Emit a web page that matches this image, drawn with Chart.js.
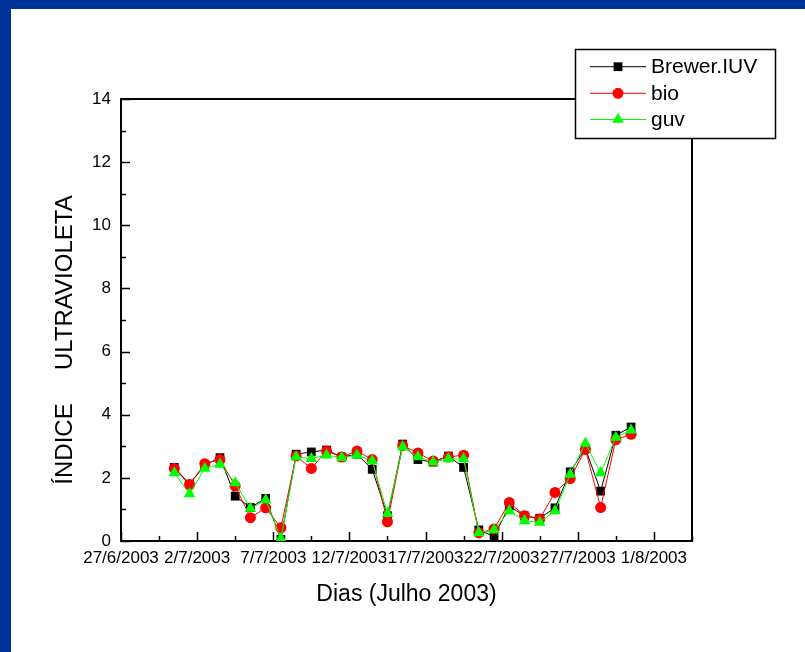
<!DOCTYPE html>
<html>
<head>
<meta charset="utf-8">
<script src="https://cdn.jsdelivr.net/npm/chart.js@4/dist/chart.umd.min.js"></script>
<style>
  html, body { margin: 0; padding: 0; background: #ffffff; }
  #frame { position: absolute; left: 0; top: 0; width: 805px; height: 652px; box-sizing: border-box;
           border-left: 11px solid #003399; border-top: 9px solid #003399; background: #ffffff; }
  #c { position: absolute; left: 0; top: 0; }
</style>
</head>
<body>
<div id="frame"></div>
<canvas id="c" width="805" height="652"></canvas>
<script>
// ---- data ----
const days = ['30/6','1/7','2/7','3/7','4/7','5/7','6/7','7/7','8/7','9/7','10/7','11/7','12/7','13/7','14/7','15/7',
              '16/7','17/7','18/7','19/7','20/7','21/7','22/7','23/7','24/7','25/7','26/7','27/7','28/7','29/7','30/7'];
const brewer = [2.33,1.80,2.40,2.64,1.42,1.06,1.35,0.05,2.75,2.82,2.88,2.66,2.75,2.27,0.80,3.07,
                2.58,2.50,2.69,2.33,0.35,0.14,1.11,0.79,0.72,1.05,2.19,2.93,1.58,3.35,3.61];
const bio    = [2.30,1.79,2.45,2.58,1.74,0.74,1.05,0.42,2.69,2.30,2.85,2.66,2.85,2.58,0.61,3.02,
                2.79,2.53,2.66,2.72,0.26,0.38,1.22,0.80,0.70,1.54,1.98,2.90,1.06,3.21,3.38];
const guv    = [2.16,1.49,2.30,2.43,1.84,1.03,1.30,0.08,2.66,2.61,2.72,2.64,2.72,2.54,0.87,2.98,
                2.66,2.50,2.60,2.60,0.26,0.35,0.95,0.64,0.59,0.95,2.11,3.09,2.16,3.28,3.51];
const xTickLabels = ['27/6/2003','2/7/2003','7/7/2003','12/7/2003','17/7/2003','22/7/2003','27/7/2003','1/8/2003'];
const seriesNames = ['Brewer.IUV','bio','guv'];

// days since 27/6/2003, measured at noon
const origin = new Date(2003, 5, 27);
function dayValue(s) {
  const [d, m] = s.split('/').map(Number);
  return (new Date(2003, m - 1, d) - origin) / 864e5 + 0.5;
}
function pts(vals) { return vals.map((v, i) => ({ x: dayValue(days[i]), y: v })); }

const FONT = '"Liberation Sans", Arial, Helvetica, sans-serif';

const frameTicks = {
  id: 'frameTicks',
  afterDraw(chart) {
    const { ctx, chartArea: a, scales } = chart;
    ctx.save();
    ctx.strokeStyle = '#000';
    ctx.lineWidth = 2;
    ctx.beginPath();
    ctx.moveTo(a.left, a.top); ctx.lineTo(a.right, a.top);
    ctx.moveTo(a.right, a.top); ctx.lineTo(a.right, a.bottom);
    ctx.stroke();
    ctx.lineWidth = 1.5;
    ctx.beginPath();
    for (let v = 0; v <= 14; v += 1) {
      const y = Math.round(scales.y.getPixelForValue(v)) + 0.5;
      const len = v % 2 === 0 ? 9 : 5;
      ctx.moveTo(a.left, y); ctx.lineTo(a.left + len, y);
    }
    for (let v = 0; v <= 37.5; v += 2.5) {
      const x = Math.round(scales.x.getPixelForValue(v)) + 0.5;
      const len = v % 5 === 0 ? 9 : 5;
      ctx.moveTo(x, a.bottom); ctx.lineTo(x, a.bottom - len);
    }
    ctx.stroke();
    ctx.restore();
  }
};

function drawMarker(ctx, style, x, y, r, color) {
  ctx.fillStyle = color;
  ctx.beginPath();
  if (style === 'rect') {
    const s = r * Math.SQRT1_2;
    ctx.rect(x - s, y - s, 2 * s, 2 * s);
  } else if (style === 'circle') {
    ctx.arc(x, y, r, 0, Math.PI * 2);
  } else {
    for (let k = 0; k < 3; k++) {
      const ang = k * 2 * Math.PI / 3;
      const px = x + Math.sin(ang) * r, py = y - Math.cos(ang) * r;
      if (k === 0) ctx.moveTo(px, py); else ctx.lineTo(px, py);
    }
    ctx.closePath();
  }
  ctx.fill();
}

const boxLegend = {
  id: 'boxLegend',
  afterDraw(chart) {
    const { ctx } = chart;
    const L = 575.5, T = 49.5, R = 775.5, B = 138.5;
    ctx.save();
    ctx.fillStyle = '#fff';
    ctx.fillRect(L, T, R - L, B - T);
    ctx.strokeStyle = '#000';
    ctx.lineWidth = 1.5;
    ctx.strokeRect(L, T, R - L, B - T);
    const rows = [66.7, 93.3, 119.5];
    chart.data.datasets.forEach((ds, i) => {
      const y = rows[i];
      ctx.strokeStyle = ds.borderColor;
      ctx.lineWidth = 1;
      ctx.beginPath();
      ctx.moveTo(590, y); ctx.lineTo(646, y);
      ctx.stroke();
      drawMarker(ctx, ds.pointStyle, 618, y, ds.pointRadius, ds.pointBackgroundColor);
      ctx.fillStyle = '#000';
      ctx.font = '21px ' + FONT;
      ctx.textBaseline = 'middle';
      ctx.textAlign = 'left';
      ctx.fillText(ds.label, 651, y + 1);
    });
    ctx.restore();
  }
};

new Chart(document.getElementById('c'), {
  type: 'line',
  data: {
    datasets: [
      { label: seriesNames[0], data: pts(brewer), borderColor: '#000000', backgroundColor: '#000000',
        pointBackgroundColor: '#000000', pointStyle: 'rect', pointRadius: 6.2, pointBorderWidth: 0,
        borderWidth: 1, order: 3 },
      { label: seriesNames[1], data: pts(bio), borderColor: '#ff0000', backgroundColor: '#ff0000',
        pointBackgroundColor: '#ff0000', pointStyle: 'circle', pointRadius: 5.5, pointBorderWidth: 0,
        borderWidth: 1, order: 2 },
      { label: seriesNames[2], data: pts(guv), borderColor: '#00ff00', backgroundColor: '#00ff00',
        pointBackgroundColor: '#00ff00', pointStyle: 'triangle', pointRadius: 6.7, pointBorderWidth: 0,
        borderWidth: 1, order: 1 }
    ]
  },
  options: {
    responsive: false,
    devicePixelRatio: 1,
    animation: false,
    layout: { padding: { top: 99, right: 113, left: 0, bottom: 0 } },
    plugins: { legend: { display: false }, tooltip: { enabled: false } },
    elements: { line: { tension: 0 } },
    scales: {
      x: {
        type: 'linear', min: 0, max: 37.5,
        afterFit(s) { s.height = 111; },
        grid: { display: false, drawTicks: false },
        border: { display: true, color: '#000', width: 2 },
        ticks: {
          stepSize: 2.5, autoSkip: false, maxRotation: 0, minRotation: 0,
          color: '#000', font: { family: FONT, size: 17 }, padding: 7,
          callback: (v) => (Math.abs(v % 5) < 1e-9 ? (xTickLabels[Math.round(v / 5)] || '') : '')
        },
        title: { display: true, text: 'Dias (Julho 2003)', color: '#000',
                 font: { family: FONT, size: 23 }, padding: { top: 0, bottom: 44 } }
      },
      y: {
        min: 0, max: 14,
        afterFit(s) { s.width = 121; },
        grid: { display: false, drawTicks: false },
        border: { display: true, color: '#000', width: 2 },
        ticks: { stepSize: 2, color: '#000', font: { family: FONT, size: 17 }, padding: 10 },
        title: { display: true, text: 'ÍNDICE     ULTRAVIOLETA      ', color: '#000',
                 font: { family: FONT, size: 24 }, padding: { top: 51, bottom: 0 } }
      }
    }
  },
  plugins: [frameTicks, boxLegend]
});
</script>
</body>
</html>
